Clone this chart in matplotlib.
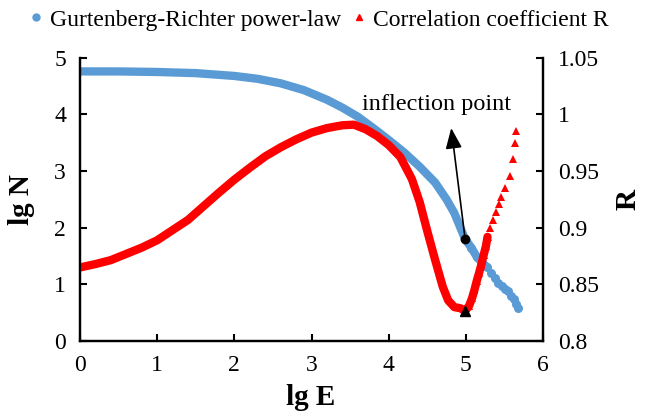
from matplotlib import pyplot as plt
from matplotlib.lines import Line2D
import numpy as np

plt.rcParams['font.family'] = ['Liberation Serif', 'DejaVu Serif']

# Gurtenberg-Richter power-law (lg E vs lg N)
gr_lgE = [0.0, 0.5, 1.0, 1.5, 2.0, 2.3, 2.6, 2.9, 3.2, 3.4, 3.6, 3.8, 4.0, 4.2, 4.4,
          4.6, 4.75, 4.85, 4.99, 5.07, 5.14, 5.2, 5.27, 5.33, 5.38, 5.42, 5.47, 5.51,
          5.55, 5.59, 5.62, 5.65, 5.67]
gr_lgN = [4.76, 4.76, 4.75, 4.73, 4.68, 4.63, 4.55, 4.43, 4.26, 4.12, 3.96, 3.76, 3.55,
          3.33, 3.08, 2.80, 2.50, 2.26, 1.80, 1.65, 1.49, 1.40, 1.31, 1.20, 1.12, 1.03,
          0.97, 0.92, 0.88, 0.80, 0.74, 0.66, 0.58]

# correlation coefficient R
r_lgE = [0.0, 0.2, 0.4, 0.6, 0.8, 1.0, 1.2, 1.4, 1.6, 1.8, 2.0, 2.2, 2.4, 2.6, 2.8,
         3.0, 3.2, 3.4, 3.55, 3.7, 3.85, 4.0, 4.15, 4.3, 4.4, 4.5, 4.6, 4.7, 4.77,
         4.85, 4.93, 4.99, 5.04, 5.08, 5.11, 5.14, 5.17, 5.20, 5.23, 5.26, 5.28, 5.31,
         5.35, 5.39, 5.43, 5.46, 5.51, 5.57, 5.61, 5.64, 5.65]
r_val = [0.865, 0.868, 0.8715, 0.877, 0.8825, 0.889, 0.898, 0.907, 0.919, 0.931, 0.9425,
         0.953, 0.963, 0.971, 0.978, 0.984, 0.988, 0.9905, 0.991, 0.987, 0.981, 0.973,
         0.9625, 0.943, 0.923, 0.897, 0.872, 0.848, 0.836, 0.830, 0.829, 0.8265, 0.831,
         0.838, 0.845, 0.853, 0.860, 0.8675, 0.876, 0.884, 0.892, 0.900, 0.907, 0.914,
         0.921, 0.927, 0.935, 0.946, 0.9605, 0.975, 0.985]

# inflection point
infl_lgE = 4.99
infl_lgN = 1.80
infl_R = 0.8265

xticks = [0, 1, 2, 3, 4, 5, 6]
yticks = [0, 1, 2, 3, 4, 5]
rticks = [0.8, 0.85, 0.9, 0.95, 1.0, 1.05]
rlabels = ['0.8', '0.85', '0.9', '0.95', '1', '1.05']

blue = '#5B9BD5'
red = '#FF0000'

gr_lgE = np.array(gr_lgE)
gr_lgN = np.array(gr_lgN)
r_lgE = np.array(r_lgE)
r_val = np.array(r_val)

fig, ax = plt.subplots(figsize=(6.45, 4.13), dpi=100)
fig.subplots_adjust(left=0.124, right=0.842, bottom=0.174, top=0.860)
ax2 = ax.twinx()

# blue: dense band + separate dots at the tail
m = gr_lgE <= 5.28
ax.plot(gr_lgE[m], gr_lgN[m], '-', color=blue, lw=6, solid_capstyle='round')
m = gr_lgE >= 4.9
ax.plot(gr_lgE[m], gr_lgN[m], 'o', color=blue, ms=6.5, mew=0)
ax.plot(infl_lgE, infl_lgN, 'o', color='black', ms=6, zorder=5)

# red: dense band + triangles at the tail
m = r_lgE <= 5.28
ax2.plot(r_lgE[m], r_val[m], '-', color=red, lw=6, solid_capstyle='round')
m = r_lgE >= 4.99
ax2.plot(r_lgE[m], r_val[m], '^', color=red, ms=6, mew=0)
ax2.plot(infl_lgE, infl_R, '^', color='black', ms=7, zorder=5)

ax2.annotate('', xy=(4.81, 3.76), xytext=(infl_lgE, infl_lgN),
             xycoords=ax.transData, textcoords=ax.transData,
             arrowprops=dict(arrowstyle='-|>,head_length=0.5,head_width=0.2',
                             color='black', lw=1.2, mutation_scale=25,
                             shrinkA=0, shrinkB=0))
ax2.text(4.62, 4.17, 'inflection point', transform=ax.transData,
         ha='center', va='center', fontsize=17.5)

ax.set_xlim(0, 6)
ax.set_ylim(0, 5)
ax2.set_ylim(0.8, 1.05)
ax.set_xticks(xticks)
ax.set_yticks(yticks)
ax2.set_yticks(rticks)
ax2.set_yticklabels(rlabels)

for a in (ax, ax2):
    a.spines['top'].set_visible(False)
    for s in a.spines.values():
        s.set_linewidth(1.6)
    a.tick_params(direction='in', length=5, width=1.5, labelsize=17)
ax.tick_params(axis='x', pad=10)
ax.tick_params(axis='y', pad=10)
ax2.tick_params(axis='y', pad=11)

ax.set_xlabel('lg E', fontsize=21, fontweight='bold')
ax.set_ylabel('lg N', fontsize=21, fontweight='bold')
ax2.set_ylabel('R', fontsize=21, fontweight='bold')
ax.xaxis.set_label_coords(0.497, -0.152)
ax.yaxis.set_label_coords(-0.097, 0.5)
ax2.yaxis.set_label_coords(1.155, 0.5)

handles = [Line2D([], [], ls='', marker='o', color=blue, ms=5),
           Line2D([], [], ls='', marker='^', color=red, ms=5)]
fig.legend(handles, ['Gurtenberg-Richter power-law', 'Correlation coefficient R'],
           loc='center', bbox_to_anchor=(0.49, 0.952), ncol=2, frameon=False,
           fontsize=17, handletextpad=0.1, columnspacing=0.25, handlelength=1.0)

plt.savefig('out.png', dpi=100)
